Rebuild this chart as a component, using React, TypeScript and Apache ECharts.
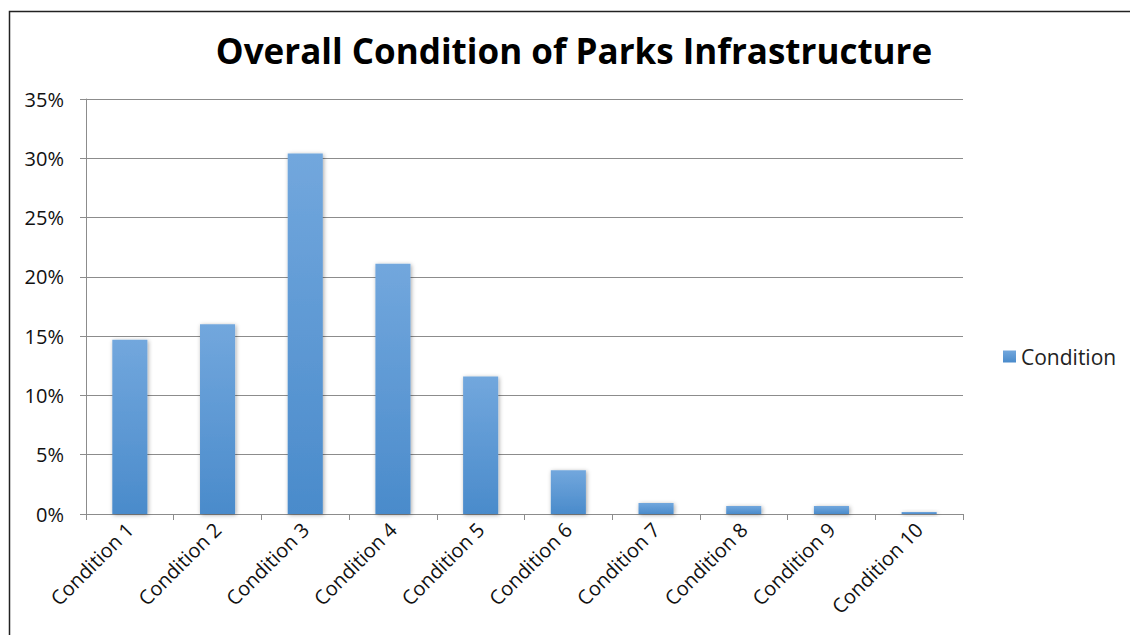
import React, { useEffect, useRef } from "react";
import * as echarts from "echarts";

const categories = [
  "Condition 1",
  "Condition 2",
  "Condition 3",
  "Condition 4",
  "Condition 5",
  "Condition 6",
  "Condition 7",
  "Condition 8",
  "Condition 9",
  "Condition 10",
];

// Share of infrastructure in each condition class (fraction of total)
const conditionShare = [0.147, 0.16, 0.304, 0.211, 0.116, 0.037, 0.0093, 0.0067, 0.0067, 0.0017];

const yTicks = { min: 0, max: 0.35, interval: 0.05 };

const FONT = "'Open Sans', 'Noto Sans', sans-serif";

export default function App() {
  const ref = useRef<HTMLDivElement>(null);

  useEffect(() => {
    if (!ref.current) return;
    const chart = echarts.init(ref.current, null, { renderer: "svg" });
    chart.setOption({
      animation: false,
      backgroundColor: "#ffffff",
      title: {
        text: "Overall Condition of Parks Infrastructure",
        left: 569,
        top: 28,
        textAlign: "center",
        textStyle: {
          fontFamily: FONT,
          fontWeight: "bold",
          fontSize: 35,
          color: "#000000",
        },
      },
      legend: {
        left: 1003,
        top: 346,
        padding: 0,
        icon: "rect",
        itemWidth: 13,
        itemHeight: 12,
        itemGap: 6,
        textStyle: { fontFamily: FONT, fontSize: 21, color: "#222222" },
        data: ["Condition"],
      },
      grid: { left: 86, right: 167, top: 99, bottom: 121, containLabel: false },
      xAxis: {
        type: "category",
        data: categories,
        boundaryGap: true,
        axisLine: { show: true, lineStyle: { color: "#8c8c8c", width: 1 } },
        axisTick: { show: true, alignWithLabel: false, length: 6, lineStyle: { color: "#8c8c8c" } },
        axisLabel: {
          rotate: 45,
          margin: 12,
          fontFamily: FONT,
          fontSize: 20,
          color: "#111111",
          interval: 0,
        },
      },
      yAxis: {
        type: "value",
        min: yTicks.min,
        max: yTicks.max,
        interval: yTicks.interval,
        axisLine: { show: true, lineStyle: { color: "#8c8c8c", width: 1 } },
        axisTick: { show: true, length: 6, lineStyle: { color: "#8c8c8c" } },
        splitLine: { show: true, lineStyle: { color: "#8c8c8c", width: 1 } },
        axisLabel: {
          margin: 22,
          fontFamily: FONT,
          fontSize: 20,
          color: "#111111",
          formatter: (v: number) => `${Math.round(v * 100)}%`,
        },
      },
      series: [
        {
          name: "Condition",
          type: "bar",
          data: conditionShare,
          barWidth: "40%",
          itemStyle: {
            color: new echarts.graphic.LinearGradient(0, 0, 0, 1, [
              { offset: 0, color: "#72a7dd" },
              { offset: 1, color: "#4a8bcb" },
            ]),
            shadowColor: "rgba(0,0,0,0.35)",
            shadowBlur: 4,
            shadowOffsetX: 1,
            shadowOffsetY: 1,
          },
        },
      ],
      graphic: [
        {
          type: "rect",
          left: 7,
          top: 9,
          shape: { x: 0, y: 0, width: 1200, height: 700 },
          style: { fill: "none", stroke: "#222222", lineWidth: 1.5 },
          silent: true,
        },
      ],
    });
    return () => chart.dispose();
  }, []);

  return (
    <div
      ref={ref}
      style={{ position: "absolute", left: 0, top: 0, width: 1130, height: 635 }}
    />
  );
}
